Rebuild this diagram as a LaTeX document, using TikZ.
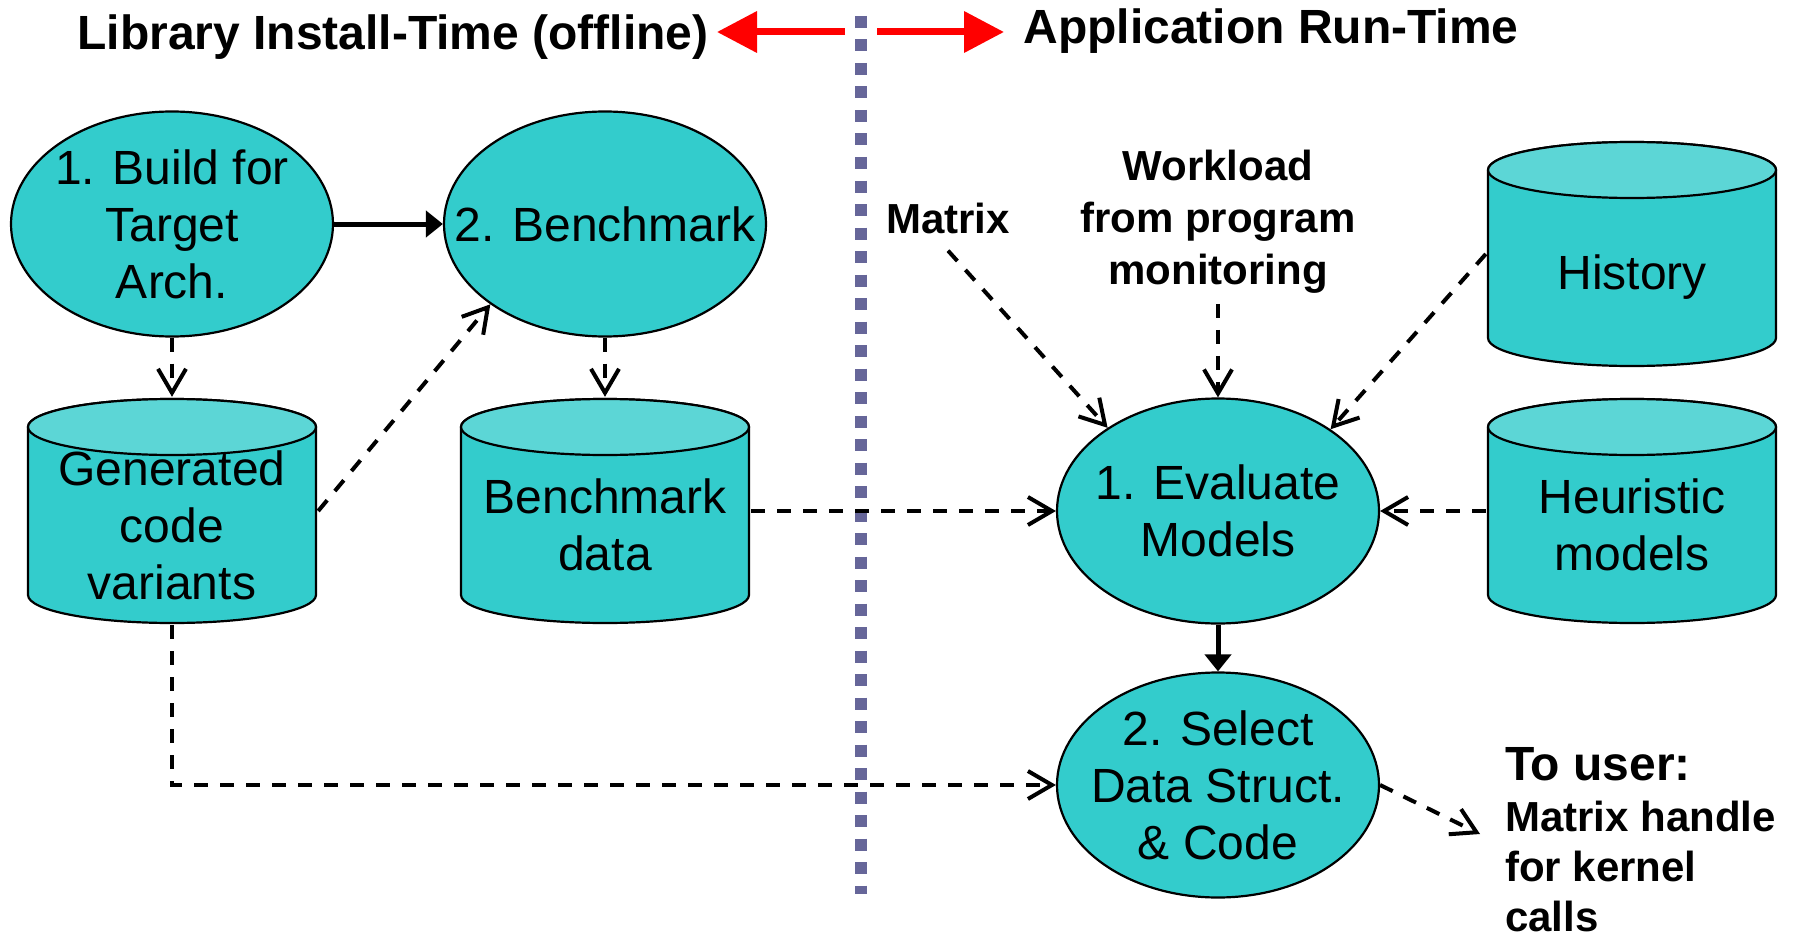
\documentclass[tikz,border=0pt]{standalone}
\usepackage{fontspec}
\setmainfont{Liberation Sans}
\usetikzlibrary{shapes.geometric,arrows.meta}
\definecolor{tealbody}{RGB}{51,204,204}
\definecolor{tealtop}{RGB}{92,214,214}
\definecolor{dotc}{RGB}{102,102,153}
\newcommand\nodefont{\fontsize{48}{57}\selectfont}
\newcommand\lblfont{\bfseries\fontsize{42}{52}\selectfont}
\newcommand\hdlfont{\bfseries\fontsize{42}{50}\selectfont}
\newcommand\titlefont{\bfseries\fontsize{48}{57}\selectfont}
\tikzset{
 ell/.style={ellipse, draw=black, line width=2.2pt, fill=tealbody, minimum width=322pt, minimum height=225pt, inner xsep=-60pt, inner ysep=-20pt, align=center, font=\nodefont},
 dbcyl/.style={rectangle, inner sep=0pt, minimum width=292pt, minimum height=228pt, path picture={
   \path[fill=tealbody, draw=black, line width=2.2pt]
     ([xshift=2pt,yshift=-30pt]path picture bounding box.north west) --
     ([xshift=2pt,yshift=30pt]path picture bounding box.south west)
     arc[start angle=180, end angle=360, x radius=144pt, y radius=28pt] --
     ([xshift=-2pt,yshift=-30pt]path picture bounding box.north east)
     arc[start angle=0, end angle=180, x radius=144pt, y radius=28pt] -- cycle;
   \path[fill=tealtop, draw=black, line width=2.2pt]
     ([yshift=-30pt]path picture bounding box.north) ellipse[x radius=144pt, y radius=28pt];
 }},
 cyltext/.style={align=center, font=\nodefont, inner sep=0pt},
 lbl/.style={align=center, font=\lblfont},
 dasharrow/.style={line width=4pt, dash pattern=on 14pt off 12pt, -{Straight Barb[length=24pt, width=28pt]}},
 solidarrow/.style={line width=5pt, -{Triangle[length=17pt, width=26pt]}},
 redarrow/.style={draw=red, line width=7pt, -{Triangle[length=40pt, width=40pt]}},
 divider/.style={draw=dotc, line width=12pt, dash pattern=on 12pt off 11.5pt},
}
\begin{document}
\begin{tikzpicture}[x=1pt, y=-1pt]
\useasboundingbox[fill=white] (0,0) rectangle (1799,939);
% divider
\coordinate (dtop) at (861,16);
\coordinate (dbot) at (861,893.5);
\draw[divider] (dtop) -- (dbot);
% titles
\node[font=\titlefont, anchor=base, inner sep=0pt] (tl) at (393,50) {Library Install-Time (offline)};
\node[font=\titlefont, anchor=base, inner sep=0pt] (tr) at (1271,44) {Application Run-Time};
\coordinate (las) at (845,32);
\coordinate (lat) at (717,32);
\coordinate (ras) at (877,32);
\coordinate (rat) at (1004,32);
\draw[redarrow] (las) -- (lat);
\draw[redarrow] (ras) -- (rat);
% ellipses
\node[ell] (bld) at (172,224) {1. Build for\\Target\\Arch.};
\node[ell] (bm) at (605,224) {2. Benchmark};
\node[ell] (ev) at (1218,511) {1. Evaluate\\Models};
\node[ell] (sel) at (1218,785) {2. Select\\Data Struct.\\\& Code};
% cylinders
\node[dbcyl] (gen) at (172,511) {};
\node[cyltext] (gent) at (172,525) {Generated\\code\\variants};
\node[dbcyl] (bmd) at (605,511) {};
\node[cyltext] (bmdt) at (605,525) {Benchmark\\data};
\node[dbcyl] (hist) at (1632,254) {};
\node[cyltext] (histt) at (1632,277) {History};
\node[dbcyl] (heur) at (1632,511) {};
\node[cyltext] (heurt) at (1632,525) {Heuristic\\models};
% labels
\node[lbl, inner sep=17pt] (mtx) at (948,218) {Matrix};
\node[lbl, inner sep=10pt] (wl) at (1218,222) {Workload\\from program\\monitoring};
\node[font=\titlefont, anchor=base west, inner sep=0pt] (user) at (1505,780) {To user:};
\node[font=\hdlfont, align=left, anchor=north west, inner sep=0pt] (hdl) at (1505,801) {Matrix handle\\for kernel\\calls};
\coordinate (tu) at (1480,834);
% connectors
\draw[solidarrow] (bld) -- (bm);
\draw[dasharrow] (bld) -- (gen);
\draw[dasharrow] (bm) -- (bmd);
\draw[dasharrow] (gen.east) -- (bm.215);
\draw[dasharrow] (gen.south) |- (sel.west);
\draw[dasharrow] (bmd) -- (ev);
\draw[dasharrow] (heur) -- (ev);
\draw[dasharrow] (hist.west) -- (ev.36);
\draw[dasharrow] (mtx.south) -- (ev.143);
\draw[dasharrow] (wl) -- (ev);
\draw[solidarrow] (ev) -- (sel);
\draw[dasharrow] (sel.east) -- (tu);
\end{tikzpicture}
\end{document}
